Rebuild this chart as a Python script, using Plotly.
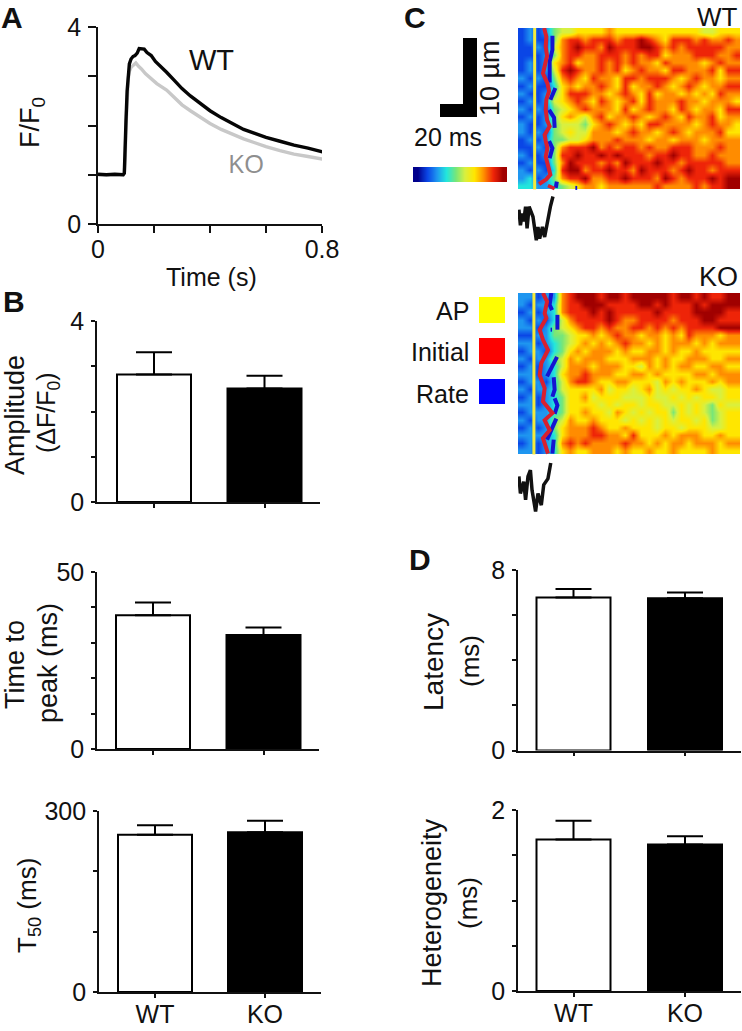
import plotly.graph_objects as go

W, H = 742, 1031

# ---------- data ----------
wt_time = [0,.03,.06,.09,.094,.097,.10,.104,.108,.112,.118,.125,.132,.14,.147,.155,.165,.175,.19,.205,.22,.245,.27,.30,.33,.364,.40,.44,.483,.52,.56,.60,.65,.70,.75,.78,.82]
wt_trace = [1.01,1,1.01,1,1.03,1.4,2.1,2.7,3.05,3.25,3.35,3.4,3.42,3.47,3.56,3.55,3.55,3.48,3.42,3.3,3.22,3.08,2.93,2.75,2.6,2.46,2.3,2.16,2.03,1.92,1.84,1.76,1.68,1.60,1.54,1.49,1.44]
ko_time = [0,.05,.09,.094,.097,.10,.104,.108,.112,.118,.125,.13,.135,.145,.155,.17,.19,.21,.245,.27,.30,.33,.364,.40,.44,.483,.52,.56,.60,.65,.70,.75,.82]
ko_trace = [1,1,1,1.03,1.3,2,2.6,2.95,3.1,3.18,3.22,3.25,3.27,3.2,3.15,3.05,2.95,2.85,2.72,2.58,2.42,2.3,2.18,2.04,1.92,1.81,1.73,1.65,1.57,1.49,1.42,1.37,1.30]

groups = ["WT", "KO"]
amplitude = [2.82, 2.51];  amplitude_err = [0.49, 0.28]
time_to_peak = [37.8, 32.2];  time_to_peak_err = [3.55, 2.1]
t50 = [260.8, 264.7];  t50_err = [15.4, 19.3]
latency = [6.78, 6.75];  latency_err = [0.38, 0.25]
heterogeneity = [1.673, 1.62];  heterogeneity_err = [0.207, 0.09]

# Linescan images, read as colour levels 0-9 (rows top to bottom)
wt_image = [
"1212455666676666666666655666",
"1211478878887889876888787787",
"1121578988798889987878888877",
"1112478877888787886777888778",
"1212678677878787768777767877",
"1212589877878678776887778688",
"2121478768776887888767877677",
"1211367677876867787678767788",
"2112468887767876867767676877",
"1212567876876786877787767776",
"2121456787776867877687677688",
"1212467657867787678768778677",
"2112455546787676887777678776",
"2121456557776787767876777866",
"1212445567778777677677767777",
"1121478889787887877888777877",
"2112488988989888788988778777",
"1211479888787988898878888877",
"2121389978898879888789887888",
"2312478897788988879878889899",
"3322345677677777787777878899",
]
ko_image = [
"2212278999899899999899898899",
"2122378899988889989888989999",
"1212378889898888898888999988",
"2121357888898778888788899888",
"2212456788787788787878888999",
"1122445667678776776768777677",
"2212345676767877676777676777",
"1221346767776766776766766666",
"2122457677766677767667776677",
"1212357776777665767677667766",
"2212367787776677676666776777",
"1221357887667766657676667677",
"2122356666756656756566765566",
"1212346675666555655656566566",
"2212346666565665665565654655",
"1222346676657656566465654566",
"2122457667666565656566564566",
"1212467778766766656656665566",
"2222367778877686667677766766",
"1212378787777877676776777677",
"2212367667776766766766667666",
]
scale_levels = [[0, 1, 2, 3, 4, 5, 6, 7, 8, 9]]
level_colours = ["#00008c", "#0a46e6", "#1e96f0", "#22e6dc", "#78e678",
                 "#d8f040", "#ffe600", "#ff8c00", "#ee2408", "#a00000"]

# Traces over the images: time (ms), position (um)
wt_ap = ([9.0, 9.0], [0, 20.7])
wt_initial = ([14.1,15.3,15.0,15.7,13.5,15.9,16.8,15.3,15.0,15.7,17.1,14.4,15.0,15.9,15.0,16.2,17.5,15.3,11.4],
              [0,1.1,2.4,3.6,5.8,7.1,8.1,9.2,10.5,11.8,12.6,13.7,14.5,15.4,16.5,17.5,18.8,19.4,20.0])
wt_initial_end = ([16.2, 19.8], [20.2, 20.6])
wt_rate = [([18.6,18.6,17.1,17.1],[1,2.8,4.3,7.0]),
           ([20.2,17.5],[7.7,9.2]),
           ([16.8,19.5,19.8],[10.5,11.5,12.8]),
           ([16.8,18.6,17.1],[14.5,15.4,16.7]),
           ([21.0,20.4],[19.7,20.5]),
           ([31.0,32.0],[20.5,20.5])]
wt_black = ([.5,1.3,2.3,3.1,4.1,4.9,6,7.2,8.1,9.9,10.8,11.7,13.2,14.4,16.2,17.5,18.9],
            [23.3,25.3,23.8,24.8,22.9,25.7,22.9,23.8,24.2,27.2,25.5,27,25.5,26.8,24.2,22.9,21.6])

ko_ap = ([8.6, 8.6], [0, 20.7])
ko_initial = ([13.5,15.7,14.4,15.3,11.7,13.5,16.2,12.6,11.7,14.4,13.5,18.6,14.4,17.1,13.5,16.2],
              [0,1.1,2.6,3.2,4.7,6,7.3,9,10.5,12.2,13.9,15.4,16.3,17.6,18.6,20.6])
ko_rate = [([18,17.1,18.4],[0,1.5,2.2]),
           ([21.3,21.3],[2.8,4.7]),
           ([17.6,18.4],[4.7,4.7]),
           ([21.1,15.7],[8.2,10.7]),
           ([19.3,19.8,18.6],[10.8,12.4,13.3]),
           ([19.8,21.3,19.8],[13.5,14.4,15.5]),
           ([20.7,15.7],[16.1,18.8]),
           ([19.3,18.6],[18.8,20.6])]
ko_black = ([.5,1.3,3.1,4.1,5.4,6.7,7.6,9.5,10.8,12.6,13.9,16.2,17.7],
            [23.5,25.7,24.2,26.5,23.5,22.7,25.3,28,25.7,27.2,24.6,23.8,21.8])

# ---------- helpers ----------
def px(x):  return x / W
def py(y):  return 1 - y / H

FONT = "Liberation Sans"
fig = go.Figure()
axis_count = 0
annotations = []
shapes = []

def new_axes(left, right, top, bottom, xaxis, yaxis):
    global axis_count
    axis_count += 1
    s = "" if axis_count == 1 else str(axis_count)
    xaxis = dict(xaxis, domain=[px(left), px(right)], anchor="y" + s, showgrid=False, zeroline=False, automargin=False)
    yaxis = dict(yaxis, domain=[py(bottom), py(top)], anchor="x" + s, showgrid=False, zeroline=False, automargin=False)
    fig.update_layout(**{"xaxis" + s: xaxis, "yaxis" + s: yaxis})
    return "x" + s, "y" + s

def hidden_axis(rng):
    return dict(range=rng, showline=False, showticklabels=False, ticks="", tickmode="array", tickvals=[], fixedrange=True)

def text(x, y, s, size=25, angle=0, color="#111111", bold=False, anchor="center", family=FONT):
    annotations.append(dict(x=px(x), y=py(y), xref="paper", yref="paper", text=f"<b>{s}</b>" if bold else s,
                            showarrow=False, textangle=angle, xanchor=anchor, yanchor="middle",
                            font=dict(family=family, size=size, color=color)))

def rect(x0, y0, x1, y1, color):
    shapes.append(dict(type="rect", xref="paper", yref="paper", x0=px(x0), x1=px(x1), y0=py(y0), y1=py(y1),
                       fillcolor=color, line=dict(width=0), layer="above"))

def axis_style(ticklen, major, minor):
    return dict(showline=True, linecolor="#111111", linewidth=1.6, ticks="outside", ticklen=ticklen,
                tickwidth=1.5, tickcolor="#111111", ticklabelstandoff=2,
                tickmode="array", tickvals=major,
                minor=dict(tickmode="array", tickvals=minor, ticks="outside", ticklen=ticklen,
                           tickwidth=1.5, tickcolor="#111111", showgrid=False),
                tickfont=dict(family=FONT, size=25, color="#111111"), fixedrange=True)

def bar_panel(left, right, top, bottom, cwt, cko, values, errors, ymax, ystep, ylabels, show_groups):
    unit = cko - cwt
    x0 = (left - cwt) / unit
    x1 = (right - cwt) / unit
    n = round(ymax / ystep)
    if show_groups:
        xa = dict(axis_style(4, [0, 1], []), range=[x0, x1], ticktext=groups)
    else:
        xa = dict(axis_style(4, [], [0, 1]), range=[x0, x1], showticklabels=False)
    xa["ticklabelstandoff"] = -5
    ya = dict(axis_style(4, [0, ymax], [i * ystep for i in range(1, n)]), range=[0, ymax], ticktext=ylabels)
    xr, yr = new_axes(left, right, top, bottom, xa, ya)
    fig.add_trace(go.Bar(x=[0, 1], y=values, width=74 / unit, xaxis=xr, yaxis=yr, showlegend=False,
                         marker=dict(color=["white", "black"], line=dict(color="black", width=2)),
                         error_y=dict(type="data", symmetric=False, array=errors, arrayminus=[0, 0],
                                      color="black", thickness=2, width=18)))

def line(xr, yr, xs, ys, color, width):
    fig.add_trace(go.Scatter(x=xs, y=ys, mode="lines", xaxis=xr, yaxis=yr, showlegend=False, cliponaxis=False,
                             line=dict(color=color, width=width, shape="linear"), hoverinfo="skip"))

def image_panel(top, total_px, rows, ap, initial, extra_initial, rate, black):
    xa = hidden_axis([0, 120])
    ya = hidden_axis([total_px / 7.8, 0])
    xr, yr = new_axes(518, 740, top, top + total_px, xa, ya)
    z = [[int(c) for c in r] for r in rows]
    colourscale = [[i / 9, c] for i, c in enumerate(level_colours)]
    fig.add_trace(go.Heatmap(z=z, x0=120 / 56, dx=120 / 28, y0=20.7 / 42, dy=20.7 / 21, xaxis=xr, yaxis=yr,
                             zmin=0, zmax=9, colorscale=colourscale, zsmooth="best",
                             showscale=False, hoverinfo="skip"))
    line(xr, yr, ap[0], ap[1], "#f4ea3c", 3)
    for seg in rate:
        line(xr, yr, seg[0], seg[1], "#1414d2", 4)
    line(xr, yr, initial[0], initial[1], "#d8202e", 4)
    if extra_initial:
        line(xr, yr, extra_initial[0], extra_initial[1], "#d8202e", 3.5)
    line(xr, yr, black[0], black[1], "#111111", 3.5)

# ---------- panel A ----------
xa = dict(axis_style(7, [0, .8], [.2, .4, .6]), range=[0, 0.8], ticktext=["0", "0.8"], ticklabelstandoff=-5)
ya = dict(axis_style(8, [0, 4], [1, 2, 3]), range=[0, 4], ticktext=["0", "4"])
xr, yr = new_axes(98, 322, 27, 224, xa, ya)
line(xr, yr, ko_time, ko_trace, "#c8c8c8", 3.4)
line(xr, yr, wt_time, wt_trace, "#050505", 3.4)

# ---------- panels B, D ----------
bar_panel(97, 320, 321, 502, 154, 264.5, amplitude, amplitude_err, 4, 1, ["0", "4"], False)
bar_panel(97, 319, 572, 749, 153, 263.5, time_to_peak, time_to_peak_err, 50, 10, ["0", "50"], False)
bar_panel(99, 321, 811, 992, 155, 265, t50, t50_err, 300, 100, ["0", "300"], True)
bar_panel(518, 741, 570, 750.5, 573.5, 685, latency, latency_err, 8, 2, ["0", "8"], False)
bar_panel(518, 741, 810, 991, 573.5, 685, heterogeneity, heterogeneity_err, 2, 0.5, ["0", "2"], True)

# ---------- panel C ----------
image_panel(28, 222, wt_image, wt_ap, wt_initial, wt_initial_end, wt_rate, wt_black)
image_panel(293, 226, ko_image, ko_ap, ko_initial, None, ko_rate, ko_black)

xa = hidden_axis([-0.5, 9.5])
ya = hidden_axis([-0.5, 0.5])
xr, yr = new_axes(413, 507, 167, 182, xa, ya)
fig.add_trace(go.Heatmap(z=scale_levels, xaxis=xr, yaxis=yr, zmin=0, zmax=9, zsmooth="best", showscale=False,
                         colorscale=[[i / 9, c] for i, c in enumerate(level_colours)], hoverinfo="skip"))

# scale bar
rect(463, 38, 477, 117, "black")
rect(440, 104, 477, 117, "black")
# legend swatches
rect(479, 297, 505, 323, "#ffff00")
rect(479, 338, 505, 364, "#ff0000")
rect(479, 379, 505, 404, "#0000ff")

# ---------- texts ----------
text(12, 17, "A", 30, bold=True)
text(14, 301, "B", 30, bold=True)
text(415, 17, "C", 30, bold=True)
text(420, 559, "D", 30, bold=True)

text(32, 123, "F/F<sub>0</sub>", 27, -90)
text(211, 277, "Time (s)", 25)
text(211, 60, "WT", 29)
text(246, 163, "KO", 26, color="#8e8e8e", family="Open Sans")

text(15, 415, "Amplitude", 27, -90)
text(48, 413, "(ΔF/F<sub>0</sub>)", 25, -90)
text(15, 665, "Time to", 27, -90)
text(48, 663, "peak (ms)", 27, -90)
text(28, 906, "T<sub>50</sub> (ms)", 26, -90)
text(433, 662, "Latency", 28, -90)
text(470, 661, "(ms)", 26, -90)
text(432, 903, "Heterogeneity", 27, -90)
text(468, 903, "(ms)", 26, -90)

text(740, 17, "WT", 26, anchor="right")
text(740, 277, "KO", 27, anchor="right")
text(490, 78, "10 µm", 27, -90)
text(448, 137, "20 ms", 25)
text(471, 311, "AP", 25, anchor="right")
text(471, 352, "Initial", 25, anchor="right")
text(471, 394, "Rate", 25, anchor="right")

fig.update_layout(width=W, height=H, margin=dict(l=0, r=0, t=0, b=0, autoexpand=False), paper_bgcolor="white", plot_bgcolor="rgba(0,0,0,0)",
                  showlegend=False, annotations=annotations, shapes=shapes, barmode="overlay")
fig.write_html("out.html", config={"displayModeBar": False},
               post_script="document.body.style.margin='0';document.documentElement.style.overflow='hidden';")
